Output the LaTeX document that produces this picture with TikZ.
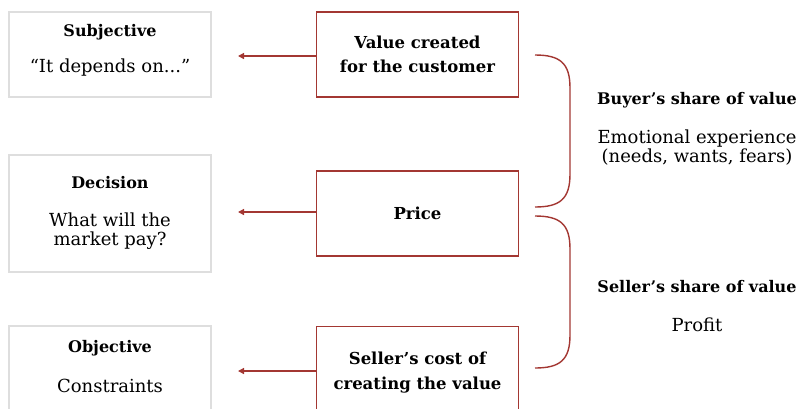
\documentclass[tikz,border=0pt]{standalone}
\usepackage{fontspec}
\setmainfont{DejaVu Serif}
\usetikzlibrary{arrows.meta}
\definecolor{boxred}{RGB}{163,55,50}
\definecolor{boxgray}{RGB}{222,222,222}
\tikzset{
  lbox/.style={draw=boxgray, line width=2.4pt, fill=white, minimum width=202pt, inner sep=0pt},
  rbox/.style={draw=boxred, line width=1.6pt, fill=white, minimum width=202pt, align=center, inner sep=0pt, font=\bfseries\fontsize{16.5}{24.5}\selectfont},
  conn/.style={draw=boxred, line width=1.3pt, -{Triangle[length=6pt,width=6pt]}},
  bracepath/.style={draw=boxred, line width=1.4pt},
  ttl/.style={font=\bfseries\fontsize{16}{19}\selectfont, inner sep=0pt},
  body/.style={font=\fontsize{18}{19.5}\selectfont, align=center, inner sep=0pt}
}
\begin{document}
\begin{tikzpicture}[x=1pt,y=-1pt]
\useasboundingbox (0,0) rectangle (800,408);
\clip (0,0) rectangle (800,408);
% left boxes
\node[lbox, minimum height=85pt] (l1) at (110,54.5) {};
\node[lbox, minimum height=117pt] (l2) at (110,213.5) {};
\node[lbox, minimum height=92pt] (l3) at (110,372) {};
\node[ttl] (l1t) at (110,32) {Subjective};
\node[body] (l1b) at (110,68) {“It depends on...”};
\node[ttl] (l2t) at (110,183) {Decision};
\node[body] (l2b) at (110,231) {What will the\\market pay?};
\node[ttl] (l3t) at (110,348) {Objective};
\node[body] (l3b) at (110,386) {Constraints};
% right boxes
\node[rbox, minimum height=85pt] (r1) at (417.5,54.5) {Value created\\for the customer};
\node[rbox, minimum height=85pt] (r2) at (417.5,213.5) {Price};
\node[rbox, minimum height=92pt] (r3) at (417.5,372.5) {Seller’s cost of\\creating the value};
% arrow ends
\coordinate (a1) at (238,56);
\coordinate (a2) at (238,212);
\coordinate (a3) at (238,371);
\draw[conn] (r1.west |- a1) -- (a1);
\draw[conn] (r2.west |- a2) -- (a2);
\draw[conn] (r3.west |- a3) -- (a3);
% braces
\draw[bracepath] (535,55) .. controls (560,55) and (570,63) .. (570,88) -- (570,174) .. controls (570,199) and (560,207) .. (535,207);
\draw[bracepath] (535,216) .. controls (560,216) and (570,224) .. (570,249) -- (570,335) .. controls (570,360) and (560,368) .. (535,368);
% right texts
\node[ttl] (bt) at (697,100) {Buyer’s share of value};
\node[body] (bb) at (697,147.5) {Emotional experience\\(needs, wants, fears)};
\node[ttl] (st) at (697,287) {Seller’s share of value};
\node[body] (sb) at (697,325) {Profit};
\end{tikzpicture}
\end{document}
